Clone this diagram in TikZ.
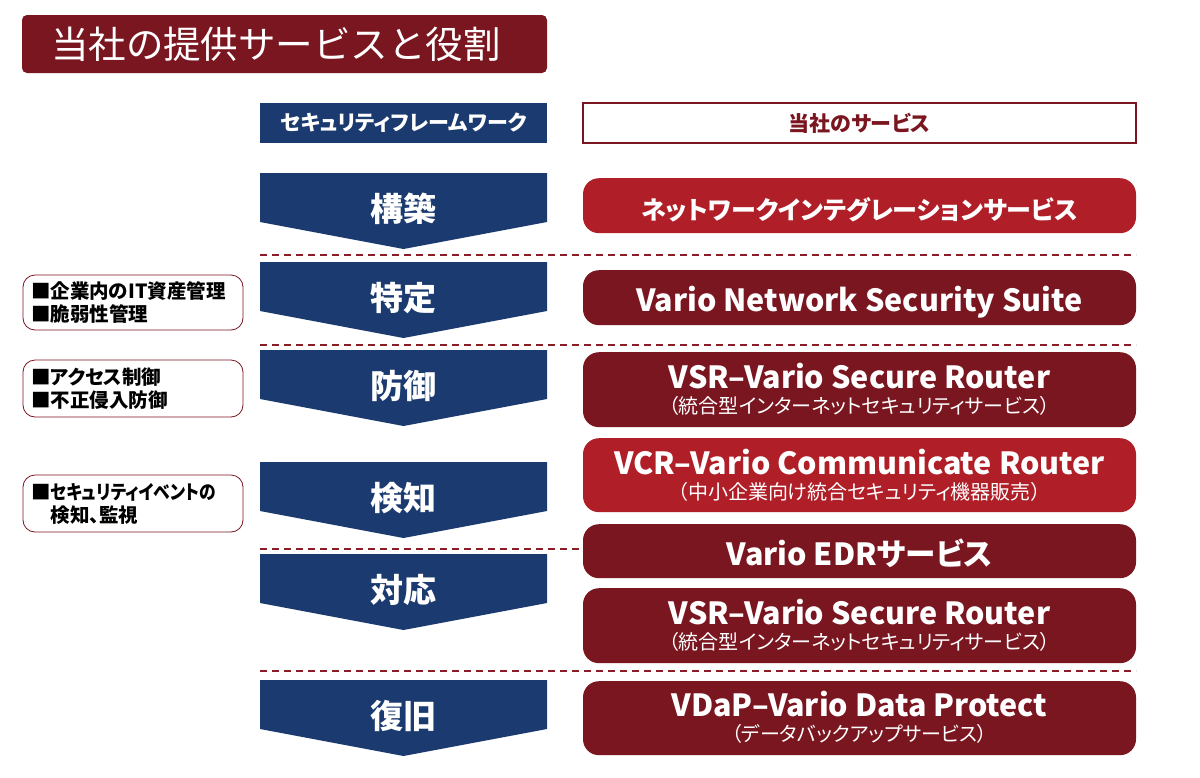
\documentclass[tikz,border=0pt]{standalone}
\usepackage{fontspec}
\setmainfont{Noto Sans CJK JP}[RawFeature={+palt}]
\newfontfamily\fullwidth{Noto Sans CJK JP}
\newfontfamily\narrowjp{Noto Sans CJK JP}[RawFeature={+palt},FakeStretch=0.86]
\definecolor{navy}{HTML}{1A3A70}
\definecolor{darkred}{HTML}{7A1620}
\definecolor{brightred}{HTML}{B01E27}
\definecolor{dashred}{HTML}{8A1C26}
\begin{document}
\begin{tikzpicture}[x=1pt,y=-1pt,
  chev/.style={fill=navy},
  steplabel/.style={text=white,font=\bfseries\fontsize{33}{35}\selectfont},
  hdrbox/.style={minimum height=40pt,inner sep=0pt,font=\bfseries\fontsize{21}{24}\selectfont},
  svc/.style={rounded corners=16pt,minimum width=553pt,anchor=north,inner sep=0pt},
  maintxt/.style={anchor=base,inner sep=0pt,text=white,font=\bfseries\fontsize{30.5}{32}\selectfont},
  subtxt/.style={anchor=base,inner sep=0pt,text=white,font=\fontsize{20}{22}\selectfont},
  leftbox/.style={draw=darkred,line width=0.8pt,rounded corners=12pt,fill=white,minimum width=220pt,text width=204pt,align=left,font=\bfseries\fontsize{19.5}{23}\selectfont},
  sep/.style={draw=dashred,line width=1.4pt,dash pattern=on 7pt off 5pt}]
\useasboundingbox (0,0) rectangle (1200,777);
\fill[white] (0,0) rectangle (1200,777);
% title
\node[fill=darkred,rounded corners=5pt,minimum width=525pt,minimum height=58pt,inner sep=0pt] (title) at (284.5,44) {};
\node[text=white,font=\fullwidth\fontsize{37.5}{40}\selectfont] (titletext) at (276,44) {当社の提供サービスと役割};
% headers
\node[hdrbox,fill=navy,text=white,minimum width=287pt] (hfw) at (403.5,123) {セキュリティフレームワーク};
\node[hdrbox,draw=darkred,line width=1.2pt,fill=white,text=darkred,minimum width=553pt] (hsv) at (859.5,123) {当社のサービス};
% chevrons
\newcommand\chevron[3]{%
  \fill[chev] (260,#2) -- (547,#2) -- (547,#2+49) -- (403.5,#2+76) -- (260,#2+49) -- cycle;
  \node[steplabel] (#1) at (403.5,#2+36) {#3};}
\chevron{s1}{173}{構築}
\chevron{s2}{262}{特定}
\chevron{s3}{350}{防御}
\chevron{s4}{462}{検知}
\chevron{s5}{554}{対応}
\chevron{s6}{680}{復旧}
% separators
\draw[sep] (260,255) -- (1136,255);
\draw[sep] (260,345) -- (1136,345);
\draw[sep] (260,549) -- (583,549);
\draw[sep] (260,671) -- (1136,671);
% left boxes
\node[leftbox,minimum height=55pt] (lb1) at (133,302.5) {■企業内のIT資産管理\\■脆弱性管理};
\node[leftbox,minimum height=57pt] (lb2) at (133,388.5) {■アクセス制御\\■不正侵入防御};
\node[leftbox,minimum height=57pt] (lb3) at (133,503.5) {■{\narrowjp セキュリティイベントの}\\\phantom{■}検知、監視};
% services
\node[svc,fill=brightred,minimum height=55pt] (v1) at (859.5,178) {};
\node[maintxt,font=\bfseries\fontsize{25}{28}\selectfont] (v1t) at (859.5,219) {ネットワークインテグレーションサービス};
\node[svc,fill=darkred,minimum height=55pt] (v2) at (859.5,270) {};
\node[maintxt] (v2t) at (859.5,311.5) {Vario Network Security Suite};
\node[svc,fill=darkred,minimum height=75pt] (v3) at (859.5,352) {};
\node[maintxt] (v3t) at (859.5,388) {VSR–Vario Secure Router};
\node[subtxt] (v3s) at (859.5,413.5) {（統合型インターネットセキュリティサービス）};
\node[svc,fill=brightred,minimum height=74pt] (v4) at (859.5,438) {};
\node[maintxt] (v4t) at (859.5,474) {VCR–Vario Communicate Router};
\node[subtxt] (v4s) at (859.5,499.5) {（中小企業向け統合セキュリティ機器販売）};
\node[svc,fill=darkred,minimum height=54pt] (v5) at (859.5,524) {};
\node[maintxt] (v5t) at (859.5,565) {Vario EDRサービス};
\node[svc,fill=darkred,minimum height=75pt] (v6) at (859.5,588) {};
\node[maintxt] (v6t) at (859.5,624) {VSR–Vario Secure Router};
\node[subtxt] (v6s) at (859.5,649.5) {（統合型インターネットセキュリティサービス）};
\node[svc,fill=darkred,minimum height=74pt] (v7) at (859.5,681) {};
\node[maintxt] (v7t) at (859.5,716.5) {VDaP–Vario Data Protect};
\node[subtxt] (v7s) at (859.5,741.5) {（データバックアップサービス）};
\end{tikzpicture}
\end{document}
